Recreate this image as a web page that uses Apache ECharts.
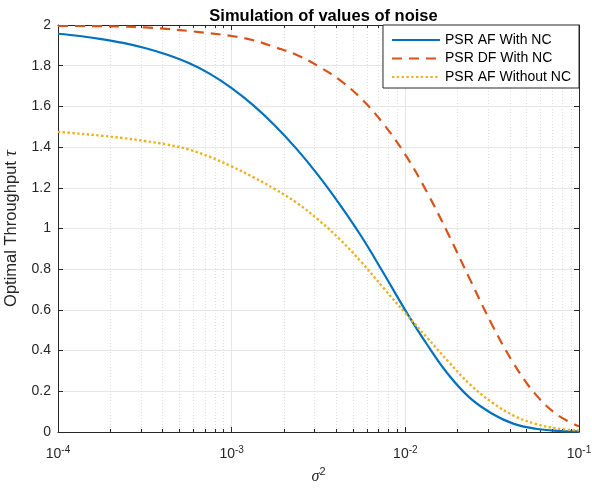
<!DOCTYPE html>
<html><head><meta charset="utf-8">
<script src="https://cdn.jsdelivr.net/npm/echarts@6/dist/echarts.min.js"></script>
<style>html,body{margin:0;padding:0;background:#fff}#c{width:592px;height:490px}</style>
</head><body><div id="c"></div>
<script>
// sigma^2 sample points (evenly spaced on the log axis, 8 per decade)
const sigma2 = [1e-4, 1.334e-4, 1.778e-4, 2.371e-4, 3.162e-4, 4.217e-4, 5.623e-4, 7.499e-4,
                1e-3, 1.334e-3, 1.778e-3, 2.371e-3, 3.162e-3, 4.217e-3, 5.623e-3, 7.499e-3,
                1e-2, 1.334e-2, 1.778e-2, 2.371e-2, 3.162e-2, 4.217e-2, 5.623e-2, 7.499e-2, 1e-1];
const psrAfWithNc = [1.957, 1.946, 1.931, 1.912, 1.887, 1.855, 1.814, 1.760,
                     1.690, 1.605, 1.505, 1.390, 1.260, 1.115, 0.957, 0.780,
                     0.598, 0.430, 0.280, 0.165, 0.090, 0.040, 0.016, 0.006, 0.003];
const psrDfWithNc = [1.995, 1.995, 1.994, 1.992, 1.988, 1.981, 1.971, 1.959,
                     1.946, 1.925, 1.891, 1.853, 1.797, 1.728, 1.635, 1.513,
                     1.363, 1.178, 0.968, 0.745, 0.526, 0.335, 0.185, 0.085, 0.028];
const psrAfWithoutNc = [1.475, 1.466, 1.456, 1.444, 1.430, 1.413, 1.389, 1.352,
                        1.305, 1.252, 1.193, 1.126, 1.042, 0.945, 0.832, 0.707,
                        0.584, 0.464, 0.344, 0.232, 0.145, 0.080, 0.040, 0.017, 0.008];
const seriesNames = ['PSR AF With NC', 'PSR DF With NC', 'PSR AF Without NC'];
const xMajorTicks = [1e-4, 1e-3, 1e-2, 1e-1];
const xMinorTicks = [2e-4, 3e-4, 4e-4, 5e-4, 6e-4, 7e-4, 8e-4, 9e-4, 2e-3, 3e-3, 4e-3, 5e-3, 6e-3, 7e-3, 8e-3, 9e-3, 2e-2, 3e-2, 4e-2, 5e-2, 6e-2, 7e-2, 8e-2, 9e-2];
const yMin = 0, yMax = 2, yStep = 0.2;

const axisColor = '#262626';
const txt = {color: '#262626', fontFamily: 'Liberation Sans, Arial, sans-serif'};
const chart = echarts.init(document.getElementById('c'));
const pairs = arr => sigma2.map((x, i) => [x, arr[i]]);
const baseX = {type: 'log', logBase: 10, min: 1e-4, max: 1e-1, gridIndex: 0};

chart.setOption({
  animation: false,
  backgroundColor: '#fff',
  title: {
    text: 'Simulation of values of noise', left: 318.5, textAlign: 'center', top: 3,
    textStyle: Object.assign({}, txt, {fontSize: 16.5, fontWeight: 'bold', color: '#000'})
  },
  grid: {left: 58, right: 13, top: 25, bottom: 58, containLabel: false, outerBoundsMode: 'none'},
  legend: {
    orient: 'vertical', right: 13, top: 25, data: seriesNames,
    itemWidth: 48, itemHeight: 14, itemGap: 4.5, padding: [8, 8, 4, 8],
    backgroundColor: '#fff', borderColor: '#262626', borderWidth: 1,
    itemStyle: {opacity: 0},
    textStyle: Object.assign({}, txt, {fontSize: 14, color: '#000'})
  },
  xAxis: [
    Object.assign({}, baseX, {
      position: 'bottom',
      name: '{i|σ}{s|2}', nameLocation: 'middle', nameGap: 27,
      nameTextStyle: Object.assign({}, txt, {fontSize: 15, rich: {
        i: {fontSize: 16, fontStyle: 'italic', fontFamily: 'Liberation Serif, serif', color: '#262626'},
        s: {fontSize: 11, verticalAlign: 'top', padding: [0, 0, 9, 0], color: '#262626'}
      }}),
      axisLine: {show: true, lineStyle: {color: axisColor, width: 1}},
      axisTick: {show: true, inside: true, length: 5, customValues: xMajorTicks, lineStyle: {color: axisColor}},
      axisLabel: Object.assign({}, txt, {
        show: true, margin: 13, fontSize: 14, customValues: xMajorTicks,
        formatter: v => '10{s|' + Math.round(Math.log10(v)) + '}',
        rich: {s: {fontSize: 10, padding: [0, 0, 9, 0], verticalAlign: 'top', color: '#262626'}}
      }),
      splitLine: {show: true, lineStyle: {color: '#e6e6e6', width: 1}}
    }),
    Object.assign({}, baseX, {
      position: 'bottom',
      axisLine: {show: false},
      axisTick: {show: true, inside: true, length: 3, customValues: xMinorTicks, lineStyle: {color: axisColor}},
      axisLabel: {show: false},
      splitLine: {show: true, lineStyle: {color: '#dedede', width: 1, type: [1, 2]}}
    }),
    Object.assign({}, baseX, {
      position: 'top',
      axisLine: {show: true, lineStyle: {color: axisColor, width: 1}},
      axisTick: {show: true, inside: true, length: 5, customValues: xMajorTicks, lineStyle: {color: axisColor}},
      axisLabel: {show: false}, splitLine: {show: false}
    }),
    Object.assign({}, baseX, {
      position: 'top',
      axisLine: {show: false},
      axisTick: {show: true, inside: true, length: 3, customValues: xMinorTicks, lineStyle: {color: axisColor}},
      axisLabel: {show: false}, splitLine: {show: false}
    })
  ],
  yAxis: [
    {
      type: 'value', min: yMin, max: yMax, interval: yStep, position: 'left',
      name: 'Optimal Throughput {i|τ}', nameLocation: 'middle', nameGap: 34,
      nameTextStyle: Object.assign({}, txt, {fontSize: 16.5, rich: {
        i: {fontSize: 18, fontStyle: 'italic', fontFamily: 'Liberation Serif, serif', color: '#262626'}
      }}),
      axisLine: {show: true, lineStyle: {color: axisColor, width: 1}},
      axisTick: {show: true, inside: true, length: 5, lineStyle: {color: axisColor}},
      axisLabel: Object.assign({}, txt, {fontSize: 14, margin: 7}),
      splitLine: {show: true, lineStyle: {color: '#e6e6e6', width: 1}}
    },
    {
      type: 'value', min: yMin, max: yMax, interval: yStep, position: 'right',
      axisLine: {show: true, lineStyle: {color: axisColor, width: 1}},
      axisTick: {show: true, inside: true, length: 5, lineStyle: {color: axisColor}},
      axisLabel: {show: false}, splitLine: {show: false}
    }
  ],
  series: [
    {name: seriesNames[0], type: 'line', data: pairs(psrAfWithNc), smooth: 0.4, symbol: 'none',
     lineStyle: {color: '#0072BD', width: 2.2, type: 'solid'}, itemStyle: {color: '#0072BD'}, z: 3},
    {name: seriesNames[1], type: 'line', data: pairs(psrDfWithNc), smooth: 0.4, symbol: 'none',
     lineStyle: {color: '#D95319', width: 2.2, type: [10, 7]}, itemStyle: {color: '#D95319'}, z: 3},
    {name: seriesNames[2], type: 'line', data: pairs(psrAfWithoutNc), smooth: 0.4, symbol: 'none',
     lineStyle: {color: '#EDB120', width: 2.4, type: [2.4, 2.4]}, itemStyle: {color: '#EDB120'}, z: 3}
  ]
});
</script>
</body></html>
